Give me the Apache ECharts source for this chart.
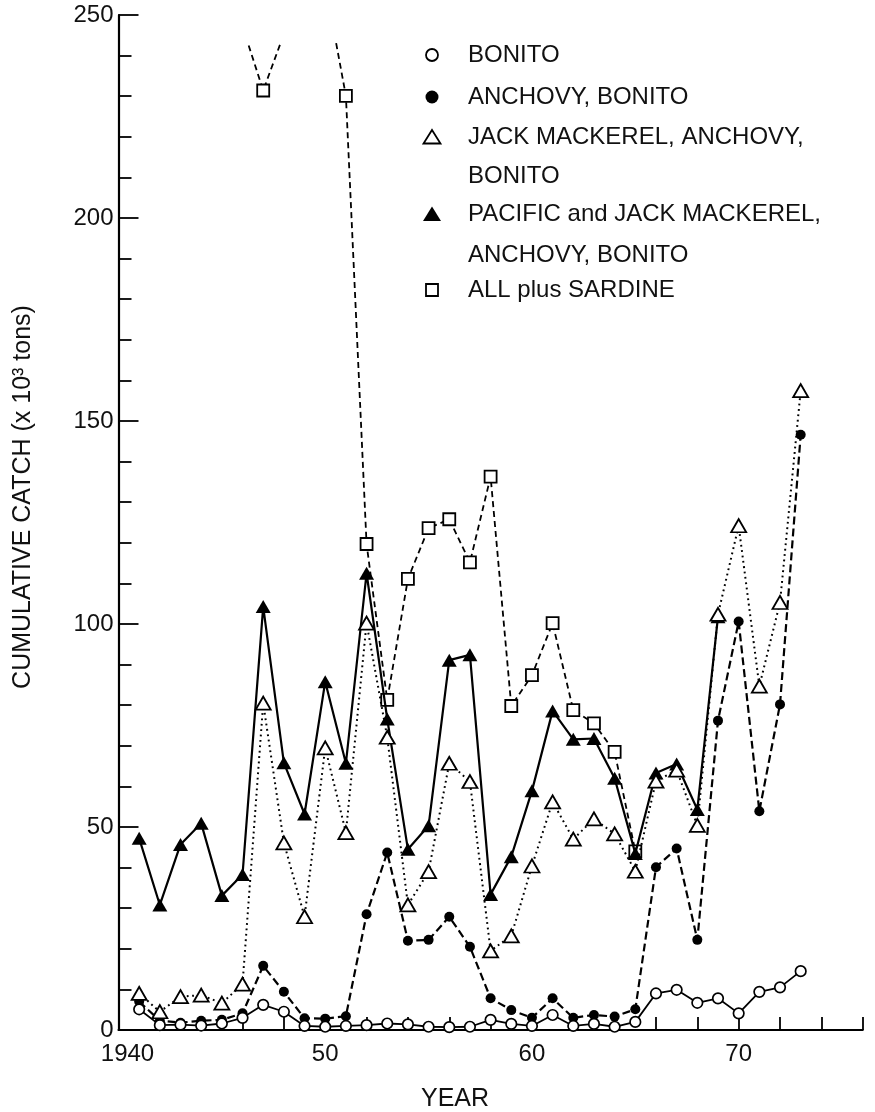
<!DOCTYPE html>
<html>
<head>
<meta charset="utf-8">
<script src="https://cdn.jsdelivr.net/npm/echarts@6/dist/echarts.min.js"></script>
<style>html,body{margin:0;padding:0;background:#fff;}#c{width:875px;height:1112px;}</style>
</head>
<body>
<div id="c"></div>
<script>
// ---- data (thousand tons) ----
const years = [1941,1942,1943,1944,1945,1946,1947,1948,1949,1950,1951,1952,1953,1954,1955,1956,1957,1958,1959,1960,1961,1962,1963,1964,1965,1966,1967,1968,1969,1970,1971,1972,1973];
const bonito = [5.1,1.2,1.3,1.1,1.6,3.0,6.2,4.5,1.0,0.8,1.0,1.2,1.6,1.4,0.8,0.7,0.8,2.5,1.5,1.0,3.7,1.0,1.5,0.8,2.0,9.0,9.9,6.7,7.8,4.1,9.4,10.5,14.5];
const anchovyBonito = [7.0,2.3,1.8,2.3,2.5,4.1,15.8,9.4,2.9,2.8,3.4,28.5,43.7,22.0,22.2,27.9,20.5,7.8,4.9,3.0,7.8,3.0,3.7,3.3,5.1,40.1,44.7,22.2,76.2,100.6,53.9,80.2,146.6];
const jackAnchovyBonito = [9.0,4.5,8.2,8.6,6.6,11.3,80.5,46.1,27.9,69.5,48.6,100.2,72.1,30.8,39.0,65.7,61.2,19.5,23.2,40.4,56.2,47.0,52.0,48.3,39.1,61.3,64.0,50.4,102.4,124.2,84.7,105.3,157.5];
const pacificJackAnchovyBonito = [47.2,30.8,45.7,50.9,33.1,38.3,104.3,65.8,53.2,85.8,65.7,112.5,76.6,44.5,50.3,91.1,92.4,33.4,42.7,58.9,78.6,71.6,71.8,62.0,43.5,63.3,65.5,54.3,101.8,null,null,null,null];
// values above the drawn range (1946, 1948, 1950) run off the top of the plot
const allPlusSardine = [null,null,null,null,null,247.2,231.4,245.3,null,257.6,230.1,119.7,81.3,111.1,123.6,125.8,115.2,136.3,79.8,87.4,100.2,78.8,75.5,68.5,44.0,null,null,null,null,null,null,null,null];
const yTicks = [0,50,100,150,200,250];
const xLabelYears = [1940,1950,1960,1970];

const legendRows = [
  {sym:'openCircle', text:'BONITO'},
  {sym:'filledCircle', text:'ANCHOVY, BONITO'},
  {sym:'openTriangle', text:'JACK MACKEREL, ANCHOVY,'},
  {sym:null, text:'BONITO'},
  {sym:'filledTriangle', text:'PACIFIC and JACK MACKEREL,'},
  {sym:null, text:'ANCHOVY, BONITO'},
  {sym:'openSquare', text:'ALL plus SARDINE'}
];

// ---- build ----
const FONT = '"Liberation Sans", Arial, sans-serif';
function pairs(vals){ return years.map((y,i)=>[y, vals[i]==null ? '-' : vals[i]]); }

const chart = echarts.init(document.getElementById('c'), null, {renderer:'canvas'});

const L = 118.5, R = 12.3, B = 82, T = 15;
const pxPerUnit = (1112 - B - T) / 250;
const clipVal = 243;
const T2 = 1112 - B - clipVal * pxPerUnit;

const legendY = [55, 97, 137, 176, 214, 255, 290];
const gfx = [];
legendRows.forEach((r, i) => {
  const cy = legendY[i], cx = 432;
  if (r.sym === 'openCircle') gfx.push({type:'circle', shape:{cx, cy, r:6}, style:{fill:'#fff', stroke:'#000', lineWidth:1.8}});
  if (r.sym === 'filledCircle') gfx.push({type:'circle', shape:{cx, cy, r:6.5}, style:{fill:'#000'}});
  if (r.sym === 'openTriangle') gfx.push({type:'polygon', shape:{points:[[cx,cy-7],[cx+8.5,cy+6.5],[cx-8.5,cy+6.5]]}, style:{fill:'#fff', stroke:'#000', lineWidth:1.8}});
  if (r.sym === 'filledTriangle') gfx.push({type:'polygon', shape:{points:[[cx,cy-7.5],[cx+9,cy+7],[cx-9,cy+7]]}, style:{fill:'#000'}});
  if (r.sym === 'openSquare') gfx.push({type:'rect', shape:{x:cx-6, y:cy-6, width:12, height:12}, style:{fill:'#fff', stroke:'#000', lineWidth:1.8}});
  gfx.push({type:'text', x:468, y:cy, style:{text:r.text, fontSize:24, fontFamily:FONT, fill:'#111', align:'left', verticalAlign:'middle'}});
});
gfx.push({type:'text', x:23, y:497, rotation:Math.PI/2, style:{text:'CUMULATIVE CATCH (x 10³ tons)', fontSize:25, fontFamily:FONT, fill:'#111', align:'center', verticalAlign:'middle'}});
gfx.push({type:'text', x:455, y:1099, style:{text:'YEAR', fontSize:25, fontFamily:FONT, fill:'#111', align:'center', verticalAlign:'middle'}});

const option = {
  animation:false,
  backgroundColor:'#fff',
  grid:[
    {left:L, right:R, top:T, bottom:B},
    {left:L, right:R, top:T2, bottom:B}
  ],
  xAxis:[
    {gridIndex:0, type:'value', min:1940, max:1976, interval:2,
     axisLine:{lineStyle:{color:'#000', width:2.2}},
     axisTick:{inside:true, length:13, lineStyle:{color:'#000', width:1.8}},
     splitLine:{show:false},
     axisLabel:{margin:12, color:'#111', fontSize:24, fontFamily:FONT,
       formatter:function(v){
         if (xLabelYears.indexOf(v) < 0) return '';
         return v === 1940 ? '{a|1940}' : String(v % 100);
       },
       rich:{a:{fontSize:24, fontFamily:FONT, color:'#111', padding:[0,0,0,18]}}
     }},
    {gridIndex:1, type:'value', min:1940, max:1976, show:false}
  ],
  yAxis:[
    {gridIndex:0, type:'value', min:0, max:250, interval:50,
     axisLine:{show:true, lineStyle:{color:'#000', width:2.2}},
     axisTick:{show:true, inside:true, length:20, lineStyle:{color:'#000', width:1.8}},
     minorTick:{show:true, splitNumber:5, length:13, lineStyle:{color:'#000', width:1.8}},
     splitLine:{show:false}, minorSplitLine:{show:false},
     axisLabel:{margin:5, color:'#111', fontSize:24, fontFamily:FONT,
       formatter:function(v){ return yTicks.indexOf(v) >= 0 ? String(v) : ''; }}},
    {gridIndex:1, type:'value', min:0, max:clipVal, show:false}
  ],
  graphic:gfx,
  series:[
    {name:'ALL plus SARDINE', type:'line', xAxisIndex:1, yAxisIndex:1, data:pairs(allPlusSardine),
     symbol:'rect', symbolSize:12, clip:true,
     itemStyle:{color:'#fff', borderColor:'#000', borderWidth:1.8},
     lineStyle:{color:'#000', width:1.8, type:[6,4]}, z:2},
    {name:'PACIFIC and JACK MACKEREL, ANCHOVY, BONITO', type:'line', data:pairs(pacificJackAnchovyBonito),
     symbol:'triangle', symbolSize:[15,13],
     itemStyle:{color:'#000'},
     lineStyle:{color:'#000', width:2.2}, z:3},
    {name:'ANCHOVY, BONITO', type:'line', data:pairs(anchovyBonito),
     symbol:'circle', symbolSize:10,
     itemStyle:{color:'#000'},
     lineStyle:{color:'#000', width:2.2, type:[8,4]}, z:4},
    {name:'JACK MACKEREL, ANCHOVY, BONITO', type:'line', data:pairs(jackAnchovyBonito),
     symbol:'triangle', symbolSize:[15,13],
     itemStyle:{color:'#fff', borderColor:'#000', borderWidth:1.8},
     lineStyle:{color:'#000', width:2, type:[1.8,3.6]}, z:5},
    {name:'BONITO', type:'line', data:pairs(bonito),
     symbol:'circle', symbolSize:10.5,
     itemStyle:{color:'#fff', borderColor:'#000', borderWidth:1.7},
     lineStyle:{color:'#000', width:1.8}, z:6}
  ]
};
chart.setOption(option);
</script>
</body>
</html>
